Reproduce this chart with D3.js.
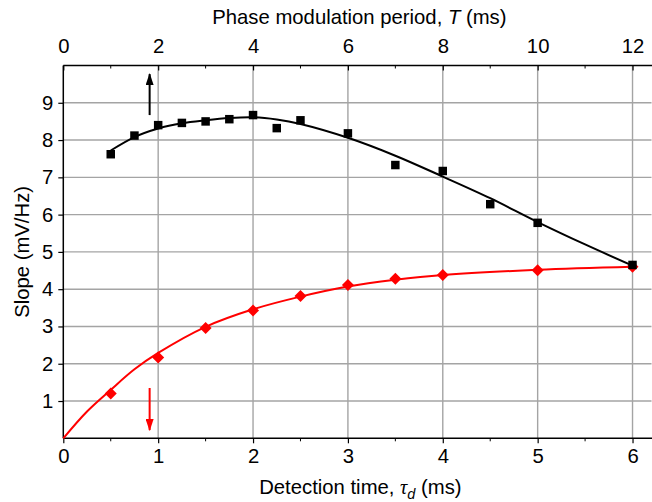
<!DOCTYPE html>
<html lang="en">
<head>
  <meta charset="UTF-8" />
  <title>Slope vs detection time</title>
  <style>
    html, body { margin: 0; padding: 0; background: #fff; }
    svg { display: block; font-family: "Liberation Sans", Arial, sans-serif; }
  </style>
</head>
<body>
  <div id="chart"></div>
  <script src="https://d3js.org/d3.v7.min.js"></script>
  <script>
    // measured points (black squares, vs tau_d)
    const blackTau = [0.5, 0.75, 1.0, 1.25, 1.5, 1.75, 2.0, 2.25, 2.5, 3.0, 3.5, 4.0, 4.5, 5.0, 6.0];
    const blackSlope = [7.62, 8.12, 8.40, 8.46, 8.50, 8.56, 8.67, 8.32, 8.53, 8.18, 7.33, 7.17, 6.28, 5.78, 4.65];
    // fit line for the black series
    const blackFitTau = [0.5, 0.75, 1.0, 1.25, 1.5, 1.75, 2.0, 2.25, 2.5, 3.0, 3.5, 4.0, 4.5, 5.0, 5.5, 6.0];
    const blackFitSlope = [7.72, 8.08, 8.31, 8.45, 8.53, 8.59, 8.61, 8.55, 8.43, 8.06, 7.58, 7.02, 6.44, 5.80, 5.20, 4.63];

    // red diamonds
    const redTau = [0.5, 1.0, 1.5, 2.0, 2.5, 3.0, 3.5, 4.0, 5.0, 6.0];
    const redSlope = [1.20, 2.17, 2.96, 3.43, 3.82, 4.11, 4.28, 4.38, 4.51, 4.60];
    const redFitTau = [0, 0.25, 0.5, 0.75, 1.0, 1.5, 2.0, 2.5, 3.0, 3.5, 4.0, 5.0, 6.0];
    const redFitSlope = [0, 0.72, 1.30, 1.85, 2.29, 2.99, 3.46, 3.80, 4.07, 4.25, 4.38, 4.52, 4.60];

    const bottomTicks = [0, 1, 2, 3, 4, 5, 6];
    const topTicks = [0, 2, 4, 6, 8, 10, 12];
    const yTicks = [1, 2, 3, 4, 5, 6, 7, 8, 9];

    const W = 652, H = 502;
    const mLeft = 63.3, mRight = 651.5, mTop = 65.5, mBottom = 438.3;

    const x = d3.scaleLinear().domain([0, 6.2]).range([mLeft, mRight]);
    const xTop = d3.scaleLinear().domain([0, 12.4]).range([mLeft, mRight]);
    const y = d3.scaleLinear().domain([0, 10]).range([mBottom, mTop]);

    const svg = d3.select("#chart").append("svg")
      .attr("width", W).attr("height", H);

    const defs = svg.append("defs");
    [["arrBlack", "#000"], ["arrRed", "#f00"]].forEach(([id, c]) => {
      defs.append("marker").attr("id", id)
        .attr("viewBox", "0 0 12 8").attr("refX", 11).attr("refY", 4)
        .attr("markerWidth", 12).attr("markerHeight", 8)
        .attr("markerUnits", "userSpaceOnUse")
        .attr("orient", "auto")
        .append("path").attr("d", "M0,0L12,4L0,8Z").attr("fill", c);
    });

    // grid
    const grid = svg.append("g").attr("stroke", "#a4a4a4").attr("stroke-width", 1.4);
    grid.selectAll(".gx").data(bottomTicks.filter(d => d > 0)).join("line")
      .attr("x1", d => x(d)).attr("x2", d => x(d))
      .attr("y1", mTop).attr("y2", mBottom);
    grid.selectAll(".gy").data(yTicks).join("line")
      .attr("x1", mLeft).attr("x2", mRight)
      .attr("y1", d => y(d)).attr("y2", d => y(d));

    // axes
    const fs = "20.3px";
    const xAxis = svg.append("g").attr("transform", `translate(0,${mBottom})`)
      .call(d3.axisBottom(x).tickValues(bottomTicks).tickSize(5).tickPadding(5).tickFormat(d3.format("d")));
    xAxis.append("g").selectAll("line").data(d3.range(0.5, 6.2, 1)).join("line")
      .attr("x1", d => x(d)).attr("x2", d => x(d)).attr("y1", 0).attr("y2", 3)
      .attr("stroke", "#000");

    const xAxisTop = svg.append("g").attr("transform", `translate(0,${mTop})`)
      .call(d3.axisTop(xTop).tickValues(topTicks).tickSize(-5).tickPadding(13).tickFormat(d3.format("d")));
    xAxisTop.append("g").selectAll("line").data(d3.range(1, 12.4, 2)).join("line")
      .attr("x1", d => xTop(d)).attr("x2", d => xTop(d)).attr("y1", 0).attr("y2", 3)
      .attr("stroke", "#000");

    const yAxis = svg.append("g").attr("transform", `translate(${mLeft},0)`)
      .call(d3.axisLeft(y).tickValues(yTicks).tickSize(5).tickPadding(5).tickFormat(d3.format("d")));

    [xAxis, xAxisTop, yAxis].forEach(g => {
      g.select(".domain").attr("stroke", "#000").attr("stroke-width", 1.5);
      g.selectAll(".tick line").attr("stroke", "#000").attr("stroke-width", 1.2);
      g.selectAll("text").attr("font-size", fs).attr("font-family", "Liberation Sans, Arial, sans-serif").attr("fill", "#000");
    });
    xAxis.select(".domain").attr("d", `M${mLeft},0H${W}`);
    xAxisTop.select(".domain").attr("d", `M${mLeft},0H${W}`);
    yAxis.select(".domain").attr("d", `M0,${mBottom}V${mTop}`);

    // axis titles
    const bt = svg.append("text").attr("x", (mLeft + mRight) / 2 + 3).attr("y", 494)
      .attr("text-anchor", "middle").attr("font-size", fs);
    bt.append("tspan").text("Detection time, ");
    bt.append("tspan").attr("font-family", "Liberation Serif, Times New Roman, serif").attr("font-style", "italic").text("τ");
    bt.append("tspan").attr("font-style", "italic").attr("font-size", "14.5px").attr("dy", 5).text("d");
    bt.append("tspan").attr("dy", -5).text(" (ms)");

    const tt = svg.append("text").attr("x", (mLeft + mRight) / 2 + 2).attr("y", 24)
      .attr("text-anchor", "middle").attr("font-size", fs);
    tt.append("tspan").text("Phase modulation period, ");
    tt.append("tspan").attr("font-style", "italic").text("T");
    tt.append("tspan").text(" (ms)");

    svg.append("text")
      .attr("transform", `translate(29,${(mTop + mBottom) / 2}) rotate(-90)`)
      .attr("text-anchor", "middle").attr("font-size", fs)
      .text("Slope (mV/Hz)");

    // curves
    const line = d3.line().x(d => x(d[0])).y(d => y(d[1])).curve(d3.curveCatmullRom.alpha(0.5));
    svg.append("path").datum(d3.zip(redFitTau, redFitSlope))
      .attr("d", line).attr("fill", "none").attr("stroke", "#f00").attr("stroke-width", 2);
    svg.append("path").datum(d3.zip(blackFitTau, blackFitSlope))
      .attr("d", line).attr("fill", "none").attr("stroke", "#000").attr("stroke-width", 2);

    // markers
    const sq = d3.symbol().type(d3.symbolSquare).size(72);
    svg.append("g").selectAll("path").data(d3.zip(redTau, redSlope)).join("path")
      .attr("d", sq)
      .attr("transform", d => `translate(${x(d[0])},${y(d[1])}) rotate(45)`)
      .attr("fill", "#f00");
    svg.append("g").selectAll("path").data(d3.zip(blackTau, blackSlope)).join("path")
      .attr("d", sq)
      .attr("transform", d => `translate(${x(d[0])},${y(d[1])})`)
      .attr("fill", "#000");

    // arrows showing which axis each series belongs to
    const arrowX = 0.91;
    svg.append("line")
      .attr("x1", x(arrowX)).attr("x2", x(arrowX))
      .attr("y1", y(8.67)).attr("y2", y(9.77))
      .attr("stroke", "#000").attr("stroke-width", 2)
      .attr("marker-end", "url(#arrBlack)");
    svg.append("line")
      .attr("x1", x(arrowX)).attr("x2", x(arrowX))
      .attr("y1", y(1.35)).attr("y2", y(0.22))
      .attr("stroke", "#f00").attr("stroke-width", 2)
      .attr("marker-end", "url(#arrRed)");
  </script>
</body>
</html>
